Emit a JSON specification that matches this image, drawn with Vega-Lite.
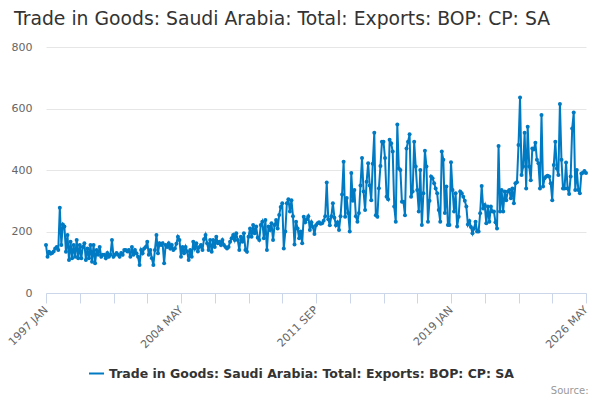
{
  "$schema": "https://vega.github.io/schema/vega-lite/v6.json",
  "width": 540,
  "height": 246,
  "autosize": {"type": "none"},
  "padding": {"left": 46, "top": 47, "right": 14, "bottom": 107},
  "background": "white",
  "title": {
    "text": "Trade in Goods: Saudi Arabia: Total: Exports: BOP: CP: SA",
    "anchor": "start",
    "frame": "group",
    "dx": -32,
    "offset": 12,
    "fontSize": 18.8,
    "fontWeight": "normal",
    "color": "#333333",
    "font": "DejaVu Sans"
  },
  "config": {"view": {"stroke": null}, "font": "DejaVu Sans"},
  "data": {
    "values": [
      {"month": "1997 JAN", "value": 156}, {"month": "1997 FEB", "value": 118}, {"month": "1997 MAR", "value": 134}, {"month": "1997 APR", "value": 128},
      {"month": "1997 MAY", "value": 130}, {"month": "1997 JUN", "value": 135}, {"month": "1997 JUL", "value": 145}, {"month": "1997 AUG", "value": 150},
      {"month": "1997 SEP", "value": 140}, {"month": "1997 OCT", "value": 277}, {"month": "1997 NOV", "value": 156}, {"month": "1997 DEC", "value": 223},
      {"month": "1998 JAN", "value": 216}, {"month": "1998 FEB", "value": 134}, {"month": "1998 MAR", "value": 189}, {"month": "1998 APR", "value": 107},
      {"month": "1998 MAY", "value": 167}, {"month": "1998 JUN", "value": 113}, {"month": "1998 JUL", "value": 156}, {"month": "1998 AUG", "value": 118},
      {"month": "1998 SEP", "value": 172}, {"month": "1998 OCT", "value": 113}, {"month": "1998 NOV", "value": 156}, {"month": "1998 DEC", "value": 113},
      {"month": "1999 JAN", "value": 150}, {"month": "1999 FEB", "value": 162}, {"month": "1999 MAR", "value": 107}, {"month": "1999 APR", "value": 145},
      {"month": "1999 MAY", "value": 113}, {"month": "1999 JUN", "value": 156}, {"month": "1999 JUL", "value": 102}, {"month": "1999 AUG", "value": 156},
      {"month": "1999 SEP", "value": 97}, {"month": "1999 OCT", "value": 140}, {"month": "1999 NOV", "value": 124}, {"month": "1999 DEC", "value": 150},
      {"month": "2000 JAN", "value": 118}, {"month": "2000 FEB", "value": 124}, {"month": "2000 MAR", "value": 124}, {"month": "2000 APR", "value": 113},
      {"month": "2000 MAY", "value": 130}, {"month": "2000 JUN", "value": 118}, {"month": "2000 JUL", "value": 124}, {"month": "2000 AUG", "value": 172},
      {"month": "2000 SEP", "value": 118}, {"month": "2000 OCT", "value": 124}, {"month": "2000 NOV", "value": 130}, {"month": "2000 DEC", "value": 124},
      {"month": "2001 JAN", "value": 118}, {"month": "2001 FEB", "value": 130}, {"month": "2001 MAR", "value": 124}, {"month": "2001 APR", "value": 140},
      {"month": "2001 MAY", "value": 140}, {"month": "2001 JUN", "value": 135}, {"month": "2001 JUL", "value": 140}, {"month": "2001 AUG", "value": 118},
      {"month": "2001 SEP", "value": 150}, {"month": "2001 OCT", "value": 124}, {"month": "2001 NOV", "value": 140}, {"month": "2001 DEC", "value": 129},
      {"month": "2002 JAN", "value": 118}, {"month": "2002 FEB", "value": 91}, {"month": "2002 MAR", "value": 140}, {"month": "2002 APR", "value": 129},
      {"month": "2002 MAY", "value": 145}, {"month": "2002 JUN", "value": 150}, {"month": "2002 JUL", "value": 167}, {"month": "2002 AUG", "value": 124},
      {"month": "2002 SEP", "value": 140}, {"month": "2002 OCT", "value": 113}, {"month": "2002 NOV", "value": 91}, {"month": "2002 DEC", "value": 140},
      {"month": "2003 JAN", "value": 189}, {"month": "2003 FEB", "value": 129}, {"month": "2003 MAR", "value": 162}, {"month": "2003 APR", "value": 156},
      {"month": "2003 MAY", "value": 162}, {"month": "2003 JUN", "value": 97}, {"month": "2003 JUL", "value": 156}, {"month": "2003 AUG", "value": 150},
      {"month": "2003 SEP", "value": 162}, {"month": "2003 OCT", "value": 145}, {"month": "2003 NOV", "value": 156}, {"month": "2003 DEC", "value": 140},
      {"month": "2004 JAN", "value": 145}, {"month": "2004 FEB", "value": 160}, {"month": "2004 MAR", "value": 183}, {"month": "2004 APR", "value": 172},
      {"month": "2004 MAY", "value": 118}, {"month": "2004 JUN", "value": 150}, {"month": "2004 JUL", "value": 129}, {"month": "2004 AUG", "value": 150},
      {"month": "2004 SEP", "value": 135}, {"month": "2004 OCT", "value": 107}, {"month": "2004 NOV", "value": 140}, {"month": "2004 DEC", "value": 118},
      {"month": "2005 JAN", "value": 167}, {"month": "2005 FEB", "value": 145}, {"month": "2005 MAR", "value": 162}, {"month": "2005 APR", "value": 135},
      {"month": "2005 MAY", "value": 150}, {"month": "2005 JUN", "value": 156}, {"month": "2005 JUL", "value": 140}, {"month": "2005 AUG", "value": 175},
      {"month": "2005 SEP", "value": 189}, {"month": "2005 OCT", "value": 162}, {"month": "2005 NOV", "value": 140}, {"month": "2005 DEC", "value": 172},
      {"month": "2006 JAN", "value": 134}, {"month": "2006 FEB", "value": 172}, {"month": "2006 MAR", "value": 150}, {"month": "2006 APR", "value": 183},
      {"month": "2006 MAY", "value": 162}, {"month": "2006 JUN", "value": 167}, {"month": "2006 JUL", "value": 156}, {"month": "2006 AUG", "value": 172},
      {"month": "2006 SEP", "value": 156}, {"month": "2006 OCT", "value": 150}, {"month": "2006 NOV", "value": 145}, {"month": "2006 DEC", "value": 150},
      {"month": "2007 JAN", "value": 167}, {"month": "2007 FEB", "value": 178}, {"month": "2007 MAR", "value": 189}, {"month": "2007 APR", "value": 172},
      {"month": "2007 MAY", "value": 194}, {"month": "2007 JUN", "value": 172}, {"month": "2007 JUL", "value": 140}, {"month": "2007 AUG", "value": 183},
      {"month": "2007 SEP", "value": 167}, {"month": "2007 OCT", "value": 194}, {"month": "2007 NOV", "value": 140}, {"month": "2007 DEC", "value": 134},
      {"month": "2008 JAN", "value": 183}, {"month": "2008 FEB", "value": 210}, {"month": "2008 MAR", "value": 183}, {"month": "2008 APR", "value": 221},
      {"month": "2008 MAY", "value": 194}, {"month": "2008 JUN", "value": 216}, {"month": "2008 JUL", "value": 180}, {"month": "2008 AUG", "value": 172},
      {"month": "2008 SEP", "value": 221}, {"month": "2008 OCT", "value": 232}, {"month": "2008 NOV", "value": 178}, {"month": "2008 DEC", "value": 237},
      {"month": "2009 JAN", "value": 140}, {"month": "2009 FEB", "value": 216}, {"month": "2009 MAR", "value": 205}, {"month": "2009 APR", "value": 227},
      {"month": "2009 MAY", "value": 172}, {"month": "2009 JUN", "value": 221}, {"month": "2009 JUL", "value": 237}, {"month": "2009 AUG", "value": 210},
      {"month": "2009 SEP", "value": 254}, {"month": "2009 OCT", "value": 280}, {"month": "2009 NOV", "value": 292}, {"month": "2009 DEC", "value": 145},
      {"month": "2010 JAN", "value": 200}, {"month": "2010 FEB", "value": 292}, {"month": "2010 MAR", "value": 305}, {"month": "2010 APR", "value": 265},
      {"month": "2010 MAY", "value": 302}, {"month": "2010 JUN", "value": 250}, {"month": "2010 JUL", "value": 158}, {"month": "2010 AUG", "value": 232},
      {"month": "2010 SEP", "value": 210}, {"month": "2010 OCT", "value": 178}, {"month": "2010 NOV", "value": 200}, {"month": "2010 DEC", "value": 162},
      {"month": "2011 JAN", "value": 248}, {"month": "2011 FEB", "value": 230}, {"month": "2011 MAR", "value": 240}, {"month": "2011 APR", "value": 250},
      {"month": "2011 MAY", "value": 205}, {"month": "2011 JUN", "value": 230}, {"month": "2011 JUL", "value": 215}, {"month": "2011 AUG", "value": 192},
      {"month": "2011 SEP", "value": 220}, {"month": "2011 OCT", "value": 227}, {"month": "2011 NOV", "value": 230}, {"month": "2011 DEC", "value": 225},
      {"month": "2012 JAN", "value": 227}, {"month": "2012 FEB", "value": 235}, {"month": "2012 MAR", "value": 250}, {"month": "2012 APR", "value": 359},
      {"month": "2012 MAY", "value": 240}, {"month": "2012 JUN", "value": 220}, {"month": "2012 JUL", "value": 250}, {"month": "2012 AUG", "value": 292},
      {"month": "2012 SEP", "value": 245}, {"month": "2012 OCT", "value": 220}, {"month": "2012 NOV", "value": 230}, {"month": "2012 DEC", "value": 205},
      {"month": "2013 JAN", "value": 250}, {"month": "2013 FEB", "value": 320}, {"month": "2013 MAR", "value": 427}, {"month": "2013 APR", "value": 248},
      {"month": "2013 MAY", "value": 309}, {"month": "2013 JUN", "value": 260}, {"month": "2013 JUL", "value": 200}, {"month": "2013 AUG", "value": 390},
      {"month": "2013 SEP", "value": 300}, {"month": "2013 OCT", "value": 335}, {"month": "2013 NOV", "value": 250}, {"month": "2013 DEC", "value": 232},
      {"month": "2014 JAN", "value": 260}, {"month": "2014 FEB", "value": 350}, {"month": "2014 MAR", "value": 439}, {"month": "2014 APR", "value": 330},
      {"month": "2014 MAY", "value": 270}, {"month": "2014 JUN", "value": 362}, {"month": "2014 JUL", "value": 422}, {"month": "2014 AUG", "value": 350},
      {"month": "2014 SEP", "value": 302}, {"month": "2014 OCT", "value": 420}, {"month": "2014 NOV", "value": 521}, {"month": "2014 DEC", "value": 253},
      {"month": "2015 JAN", "value": 248}, {"month": "2015 FEB", "value": 341}, {"month": "2015 MAR", "value": 413}, {"month": "2015 APR", "value": 492},
      {"month": "2015 MAY", "value": 492}, {"month": "2015 JUN", "value": 439}, {"month": "2015 JUL", "value": 313}, {"month": "2015 AUG", "value": 305},
      {"month": "2015 SEP", "value": 498}, {"month": "2015 OCT", "value": 487}, {"month": "2015 NOV", "value": 460}, {"month": "2015 DEC", "value": 281},
      {"month": "2016 JAN", "value": 232}, {"month": "2016 FEB", "value": 548}, {"month": "2016 MAR", "value": 405}, {"month": "2016 APR", "value": 400},
      {"month": "2016 MAY", "value": 297}, {"month": "2016 JUN", "value": 297}, {"month": "2016 JUL", "value": 253}, {"month": "2016 AUG", "value": 470},
      {"month": "2016 SEP", "value": 492}, {"month": "2016 OCT", "value": 516}, {"month": "2016 NOV", "value": 313}, {"month": "2016 DEC", "value": 330},
      {"month": "2017 JAN", "value": 492}, {"month": "2017 FEB", "value": 411}, {"month": "2017 MAR", "value": 335}, {"month": "2017 APR", "value": 265},
      {"month": "2017 MAY", "value": 400}, {"month": "2017 JUN", "value": 221}, {"month": "2017 JUL", "value": 324}, {"month": "2017 AUG", "value": 463},
      {"month": "2017 SEP", "value": 411}, {"month": "2017 OCT", "value": 232}, {"month": "2017 NOV", "value": 300}, {"month": "2017 DEC", "value": 379},
      {"month": "2018 JAN", "value": 373}, {"month": "2018 FEB", "value": 357}, {"month": "2018 MAR", "value": 340}, {"month": "2018 APR", "value": 324},
      {"month": "2018 MAY", "value": 270}, {"month": "2018 JUN", "value": 232}, {"month": "2018 JUL", "value": 460}, {"month": "2018 AUG", "value": 433},
      {"month": "2018 SEP", "value": 260}, {"month": "2018 OCT", "value": 346}, {"month": "2018 NOV", "value": 221}, {"month": "2018 DEC", "value": 221},
      {"month": "2019 JAN", "value": 425}, {"month": "2019 FEB", "value": 335}, {"month": "2019 MAR", "value": 265}, {"month": "2019 APR", "value": 324},
      {"month": "2019 MAY", "value": 216}, {"month": "2019 JUN", "value": 248}, {"month": "2019 JUL", "value": 330}, {"month": "2019 AUG", "value": 324},
      {"month": "2019 SEP", "value": 313}, {"month": "2019 OCT", "value": 300}, {"month": "2019 NOV", "value": 281}, {"month": "2019 DEC", "value": 223},
      {"month": "2020 JAN", "value": 234}, {"month": "2020 FEB", "value": 215}, {"month": "2020 MAR", "value": 194}, {"month": "2020 APR", "value": 210},
      {"month": "2020 MAY", "value": 232}, {"month": "2020 JUN", "value": 200}, {"month": "2020 JUL", "value": 200}, {"month": "2020 AUG", "value": 259},
      {"month": "2020 SEP", "value": 348}, {"month": "2020 OCT", "value": 275}, {"month": "2020 NOV", "value": 286}, {"month": "2020 DEC", "value": 227},
      {"month": "2021 JAN", "value": 281}, {"month": "2021 FEB", "value": 232}, {"month": "2021 MAR", "value": 281}, {"month": "2021 APR", "value": 265},
      {"month": "2021 MAY", "value": 265}, {"month": "2021 JUN", "value": 230}, {"month": "2021 JUL", "value": 210}, {"month": "2021 AUG", "value": 478},
      {"month": "2021 SEP", "value": 265}, {"month": "2021 OCT", "value": 335}, {"month": "2021 NOV", "value": 265}, {"month": "2021 DEC", "value": 330},
      {"month": "2022 JAN", "value": 302}, {"month": "2022 FEB", "value": 330}, {"month": "2022 MAR", "value": 335}, {"month": "2022 APR", "value": 308},
      {"month": "2022 MAY", "value": 340}, {"month": "2022 JUN", "value": 292}, {"month": "2022 JUL", "value": 357}, {"month": "2022 AUG", "value": 360},
      {"month": "2022 SEP", "value": 481}, {"month": "2022 OCT", "value": 636}, {"month": "2022 NOV", "value": 384}, {"month": "2022 DEC", "value": 411},
      {"month": "2023 JAN", "value": 521}, {"month": "2023 FEB", "value": 340}, {"month": "2023 MAR", "value": 541}, {"month": "2023 APR", "value": 411},
      {"month": "2023 MAY", "value": 367}, {"month": "2023 JUN", "value": 470}, {"month": "2023 JUL", "value": 467}, {"month": "2023 AUG", "value": 489},
      {"month": "2023 SEP", "value": 433}, {"month": "2023 OCT", "value": 422}, {"month": "2023 NOV", "value": 340}, {"month": "2023 DEC", "value": 579},
      {"month": "2024 JAN", "value": 346}, {"month": "2024 FEB", "value": 373}, {"month": "2024 MAR", "value": 379}, {"month": "2024 APR", "value": 381},
      {"month": "2024 MAY", "value": 379}, {"month": "2024 JUN", "value": 357}, {"month": "2024 JUL", "value": 302}, {"month": "2024 AUG", "value": 416},
      {"month": "2024 SEP", "value": 492}, {"month": "2024 OCT", "value": 405}, {"month": "2024 NOV", "value": 384}, {"month": "2024 DEC", "value": 615},
      {"month": "2025 JAN", "value": 433}, {"month": "2025 FEB", "value": 340}, {"month": "2025 MAR", "value": 340}, {"month": "2025 APR", "value": 424},
      {"month": "2025 MAY", "value": 340}, {"month": "2025 JUN", "value": 322}, {"month": "2025 JUL", "value": 379}, {"month": "2025 AUG", "value": 535},
      {"month": "2025 SEP", "value": 587}, {"month": "2025 OCT", "value": 335}, {"month": "2025 NOV", "value": 400}, {"month": "2025 DEC", "value": 335},
      {"month": "2026 JAN", "value": 324}, {"month": "2026 FEB", "value": 389}, {"month": "2026 MAR", "value": 391}, {"month": "2026 APR", "value": 397},
      {"month": "2026 MAY", "value": 390}
    ]
  },
  "mark": {"type": "line", "strokeWidth": 2, "point": {"filled": true, "size": 16}},
  "encoding": {
    "x": {
      "field": "month",
      "type": "ordinal",
      "sort": null,
      "scale": {"type": "point", "padding": 0},
      "axis": {
        "values": ["1997 JAN", "1998 NOV", "2000 SEP", "2002 JUL", "2004 MAY", "2006 MAR", "2008 JAN", "2009 NOV", "2011 SEP", "2013 JUL", "2015 MAY", "2017 MAR", "2019 JAN", "2020 NOV", "2022 SEP", "2024 JUL", "2026 MAY"],
        "labelExpr": "indexof(['1997 JAN', '2004 MAY', '2011 SEP', '2019 JAN', '2026 MAY'], datum.value) >= 0 ? datum.value : ''",
        "labelAngle": -45,
        "labelAlign": "right",
        "labelBaseline": "middle",
        "labelFontSize": 11,
        "labelColor": "#666666",
        "labelPadding": 5,
        "labelOverlap": false,
        "tickColor": "#ccd6eb",
        "tickSize": 10,
        "domainColor": "#ccd6eb",
        "grid": false,
        "title": "Source:",
        "titleX": 542,
        "titleY": 100,
        "titleAlign": "right",
        "titleBaseline": "alphabetic",
        "titleFontSize": 10,
        "titleFontWeight": "normal",
        "titleColor": "#999999"
      }
    },
    "y": {
      "field": "value",
      "type": "quantitative",
      "scale": {"domain": [0, 800]},
      "axis": {
        "values": [0, 200, 400, 600, 800],
        "title": null,
        "domain": false,
        "ticks": false,
        "labelPadding": 14,
        "labelFontSize": 11,
        "labelColor": "#666666",
        "gridColor": "#e6e6e6"
      }
    },
    "color": {
      "datum": "Trade in Goods: Saudi Arabia: Total: Exports: BOP: CP: SA",
      "type": "nominal",
      "scale": {"range": ["#007ac3"]},
      "legend": {
        "title": null,
        "orient": "none",
        "legendX": 42,
        "legendY": 318,
        "padding": 0,
        "symbolType": "stroke",
        "symbolSize": 225,
        "symbolStrokeWidth": 2,
        "labelFontSize": 12.5,
        "labelFontWeight": "bold",
        "labelColor": "#333333",
        "labelLimit": 600
      }
    }
  }
}
